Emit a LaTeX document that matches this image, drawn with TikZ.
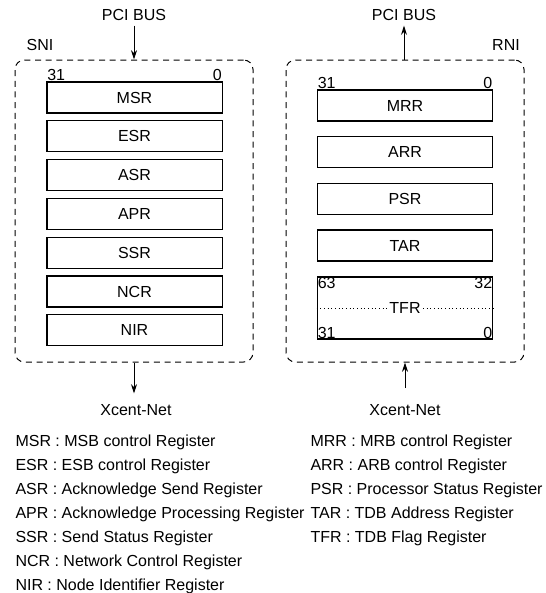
\documentclass[tikz,border=0pt]{standalone}
\usepackage{fontspec}
\setmainfont{Liberation Sans}
\usetikzlibrary{arrows.meta}

\tikzset{every picture/.style={line width=0.75pt}}
\tikzset{
  txt/.style={font=\fontsize{12}{14}\selectfont},
  unitbox/.style={draw, dash pattern=on 4.5pt off 3.5pt, rounded corners=7pt,
    minimum width=178.5pt, minimum height=226.5pt, inner sep=0pt},
  regbox/.style={draw, line width=1pt, txt, inner sep=0pt, minimum width=131.5pt, minimum height=23.25pt},
  bitno/.style={txt, inner sep=0.5pt},
  flow/.style={-{Stealth[length=7pt,width=4.5pt]}},
}

\begin{document}
\begin{tikzpicture}[x=0.75pt,y=0.75pt,yscale=-1,xscale=1]
	\useasboundingbox (0,0) rectangle (546,593);
	
	% Send side (SNI)
	\node[unitbox] (sni) at (134,211) {};
	\node[txt] (sniname) at (40,45) {SNI};
	\node[txt] (busL) at (134,15) {PCI BUS};
	\node[txt] (netL) at (136,410) {Xcent-Net};
	\foreach \reg [count=\i from 0] in {MSR,ESR,ASR,APR,SSR,NCR,NIR}
		\node[regbox] (\reg) at (134.5,97.5+38.8*\i) {\reg};
	\node[bitno, anchor=base west] (msrhi) at ([yshift=-1pt]MSR.north west) {31};
	\node[bitno, anchor=base east] (msrlo) at ([yshift=-1pt]MSR.north east) {0};
	
	\draw[flow] (busL) -- (sni.north);
	\draw[flow, shorten >=4.5pt] (sni.south) -- (sni.south |- netL.north);
	
	% Receive side (RNI)
	\node[unitbox] (rni) at (405,211) {};
	\node[txt] (rniname) at (506,45) {RNI};
	\node[txt] (busR) at (404,15) {PCI BUS};
	\node[txt] (netR) at (405,410) {Xcent-Net};
	\foreach \reg [count=\i from 0] in {MRR,ARR,PSR,TAR}
		\node[regbox] (\reg) at (405,105.5+46.7*\i) {\reg};
	\node[regbox, minimum height=46.5pt] (TFR) at (405,308) {};
	\draw[dotted] (TFR.west) -- (TFR.east);
	\node[txt, fill=white, inner sep=1pt] (tfrname) at (TFR.center) {TFR};
	\node[bitno, anchor=base west] (mrrhi) at ([yshift=-1pt]MRR.north west) {31};
	\node[bitno, anchor=base east] (mrrlo) at ([yshift=-1pt]MRR.north east) {0};
	\node[bitno, anchor=north west] (tfrtl) at (TFR.north west) {63};
	\node[bitno, anchor=north east] (tfrtr) at (TFR.north east) {32};
	\node[bitno, anchor=south west] (tfrbl) at (TFR.south west) {31};
	\node[bitno, anchor=south east] (tfrbr) at (TFR.south east) {0};
	
	\draw[flow] (rni.north -| busR) -- (busR);
	\draw[flow, shorten <=8.5pt] (netR.north) -- (netR.north |- rni.south);
	
	% Legend
	\foreach \txt [count=\i from 0] in {MSR : MSB control Register, ESR : ESB control Register,
		ASR : Acknowledge Send Register, APR : Acknowledge Processing Register,
		SSR : Send Status Register, NCR : Network Control Register, NIR : Node Identifier Register}
		\node[txt, anchor=west, inner sep=0pt] (legL\i) at (15,442+24*\i) {\txt};
	\foreach \txt [count=\i from 0] in {MRR : MRB control Register, ARR : ARB control Register,
		PSR : Processor Status Register, TAR : TDB Address Register, TFR : TDB Flag Register}
		\node[txt, anchor=west, inner sep=0pt] (legR\i) at (310,442+24*\i) {\txt};
	
\end{tikzpicture}
\end{document}
